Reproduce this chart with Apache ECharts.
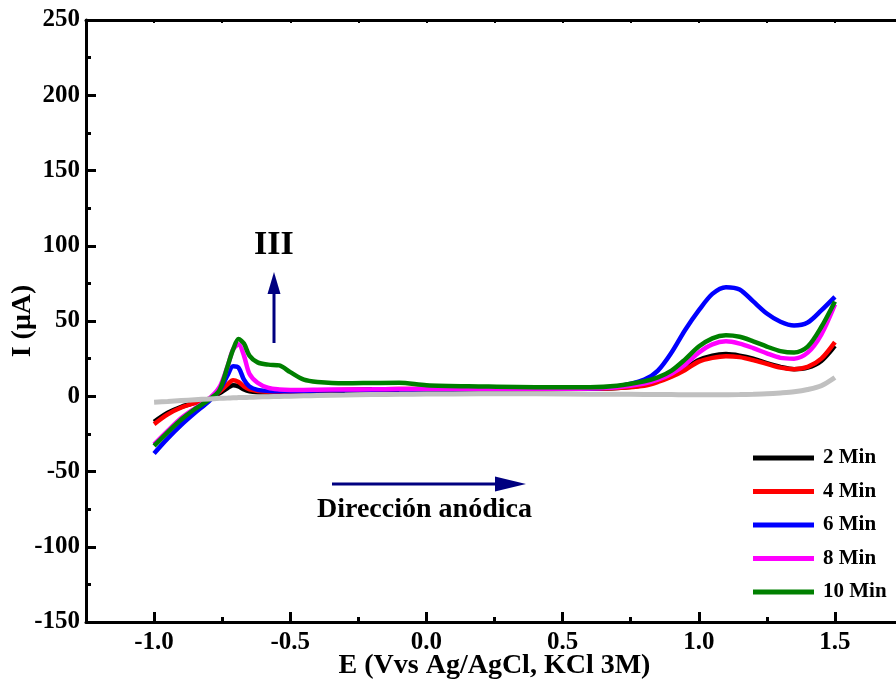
<!DOCTYPE html>
<html>
<head>
<meta charset="utf-8">
<script src="https://cdn.jsdelivr.net/npm/echarts@6/dist/echarts.min.js"></script>
<style>
  html, body { margin: 0; background: #fff; }
  #chart { width: 896px; height: 685px; }
</style>
</head>
<body>
<div id="chart"></div>
<script>
// potential (V vs Ag/AgCl) and current (uA)
const potential = [-1.0, -0.95, -0.9, -0.85, -0.8, -0.76, -0.73, -0.71, -0.69, -0.67, -0.65, -0.62, -0.58, -0.54, -0.5, -0.45, -0.4, -0.3, -0.2, -0.1, 0.0, 0.2, 0.4, 0.6, 0.7, 0.8, 0.85, 0.9, 0.95, 1.0, 1.05, 1.1, 1.15, 1.2, 1.25, 1.3, 1.35, 1.4, 1.45, 1.5];
const min2 = [-17, -11, -7, -4.2, -1.8, 2, 5.5, 7.3, 6.5, 4.5, 3.3, 2.7, 2.5, 2.6, 2.8, 3, 3.2, 3.6, 4, 4.3, 4.5, 4.6, 4.7, 5, 5.5, 7.5, 10, 13.5, 18.5, 24, 27, 28, 27, 25, 22, 19.5, 18, 19, 23.5, 33.5];
const min4 = [-18.5, -12, -7.5, -4.5, -2, 3, 8, 10.6, 9.5, 6.5, 4.5, 3.5, 3, 3, 3.2, 3.5, 3.8, 4.3, 4.6, 4.8, 4.8, 4.8, 4.9, 5, 5.5, 7, 9.5, 13, 17.5, 23, 25.5, 26.6, 26, 24, 21.5, 19, 18, 19.5, 25, 36];
const min6 = [-38, -28, -19, -11, -3.5, 4, 14, 20, 19, 11, 6.5, 4.2, 3.5, 3.3, 3.3, 3.5, 3.8, 4, 4.3, 4.5, 4.6, 4.8, 5, 5.2, 6.5, 11, 17, 29, 44, 57, 68, 72.5, 71, 63, 55, 49.5, 47, 49, 57, 66];
const min8 = [-32, -23, -14.5, -8, -2, 6, 20, 31, 34.5, 27, 15, 9, 5.5, 4.5, 4.2, 4.2, 4.3, 4.5, 4.6, 4.8, 5, 5, 5, 5.2, 6, 8.5, 11, 15, 21, 29, 34.5, 36.5, 35, 32, 28.5, 25.5, 25, 29, 41, 61];
const min10 = [-33, -24, -15.5, -8.5, -2.5, 4, 20, 31, 38, 35, 27, 22.5, 21, 20.5, 16, 11, 9.5, 8.6, 8.8, 9, 7.3, 6.5, 6, 6, 7, 10, 12.5, 17, 24.5, 33, 38.5, 40.5, 39.5, 36.5, 33, 30, 29, 33, 46, 63];
const blank = [-4, -3.5, -2.9, -2.3, -1.8, -1.4, -1.2, -1, -0.9, -0.8, -0.7, -0.5, -0.3, -0.1, 0, 0.3, 0.5, 0.8, 1.1, 1.3, 1.5, 1.6, 1.6, 1.4, 1.3, 1.2, 1.1, 1.1, 1.0, 1.0, 1.0, 1.0, 1.1, 1.3, 1.6, 2.2, 3, 4.5, 7, 12.5];

const seriesNames = ["2 Min", "4 Min", "6 Min", "8 Min", "10 Min"];
const seriesColors = ["#000000", "#ff0000", "#0000ff", "#ff00ff", "#008000"];
const majorTicksX = [-1.0, -0.5, 0.0, 0.5, 1.0, 1.5];
const minorTicksX = [-0.75, -0.25, 0.25, 0.75, 1.25];

const font = "Liberation Serif";
const pairs = (ys) => potential.map((x, i) => [x, ys[i]]);

const chart = echarts.init(document.getElementById("chart"));

const curves = [min2, min4, min6, min8, min10].map((ys, i) => ({
  name: seriesNames[i],
  type: "line",
  data: pairs(ys),
  showSymbol: false,
  smooth: 0.3,
  color: seriesColors[i],
  lineStyle: { width: 4.5, color: seriesColors[i] },
}));

const option = {
  animation: false,
  grid: { left: 86, top: 20, right: -7, bottom: 63, outerBoundsMode: "none", containLabel: false },
  legend: {
    data: seriesNames,
    orient: "vertical",
    left: 748,
    top: 442,
    icon: "rect",
    itemWidth: 61,
    itemHeight: 5,
    itemGap: 11.5,
    textStyle: { fontFamily: font, fontWeight: "bold", fontSize: 21, lineHeight: 22, color: "#000", padding: [0, 0, 0, 4] },
  },
  xAxis: [
    {
      type: "value",
      min: -1.25,
      max: 1.75,
      name: "E (Vvs Ag/AgCl, KCl 3M)",
      nameLocation: "middle",
      nameGap: 30,
      nameMoveOverlap: false,
      nameTextStyle: { fontFamily: font, fontWeight: "bold", fontSize: 28, color: "#000" },
      axisLine: { onZero: false, lineStyle: { color: "#000", width: 3 } },
      axisTick: { inside: true, length: 10, lineStyle: { width: 3, color: "#000" }, customValues: majorTicksX },
      axisLabel: {
        customValues: majorTicksX,
        fontFamily: font, fontWeight: "bold", fontSize: 25, color: "#000", margin: 8,
        formatter: (v) => v.toFixed(1),
      },
      splitLine: { show: false },
    },
    {
      type: "value",
      min: -1.25,
      max: 1.75,
      position: "bottom",
      axisLine: { show: false, onZero: false },
      axisTick: { inside: true, length: 5, lineStyle: { width: 3, color: "#000" }, customValues: minorTicksX },
      axisLabel: { show: false },
      splitLine: { show: false },
    },
    {
      type: "value",
      min: -1.25,
      max: 1.75,
      position: "top",
      axisLine: { onZero: false, lineStyle: { color: "#000", width: 3 } },
      axisTick: { inside: true, length: 3, lineStyle: { width: 2, color: "#000" }, customValues: majorTicksX.concat(minorTicksX) },
      axisLabel: { show: false },
      splitLine: { show: false },
    },
  ],
  yAxis: {
    type: "value",
    min: -150,
    max: 250,
    interval: 50,
    name: "I (μA)",
    nameLocation: "middle",
    nameGap: 49,
    nameMoveOverlap: false,
    nameTextStyle: { fontFamily: font, fontWeight: "bold", fontSize: 28, color: "#000" },
    axisLine: { show: true, onZero: false, lineStyle: { color: "#000", width: 3 } },
    axisTick: { show: true, inside: true, length: 10, lineStyle: { width: 3, color: "#000" } },
    minorTick: { show: true, splitNumber: 2, length: 5, lineStyle: { width: 3, color: "#000" } },
    axisLabel: { fontFamily: font, fontWeight: "bold", fontSize: 25, color: "#000", margin: 6 },
    splitLine: { show: false },
  },
  series: curves.concat([
    {
      name: "blank",
      type: "line",
      data: pairs(blank),
      showSymbol: false,
      smooth: 0.3,
      color: "#c0c0c0",
      lineStyle: { width: 5, color: "#c0c0c0" },
    },
  ]),
  graphic: [
    { type: "text", left: 254, top: 228, style: { text: "III", fontFamily: font, fontWeight: "bold", fontSize: 34, fill: "#000" } },
    { type: "line", shape: { x1: 274, y1: 343, x2: 274, y2: 292 }, style: { stroke: "#000080", lineWidth: 3 } },
    { type: "polygon", shape: { points: [[274, 272], [267.5, 294], [280.5, 294]] }, style: { fill: "#000080" } },
    { type: "line", shape: { x1: 332, y1: 484, x2: 497, y2: 484 }, style: { stroke: "#000080", lineWidth: 3 } },
    { type: "polygon", shape: { points: [[526, 484], [495, 476.5], [495, 491.5]] }, style: { fill: "#000080" } },
    { type: "text", left: 317, top: 496, style: { text: "Dirección anódica", fontFamily: font, fontWeight: "bold", fontSize: 28, fill: "#000" } },
  ],
};

chart.setOption(option);
</script>
</body>
</html>
